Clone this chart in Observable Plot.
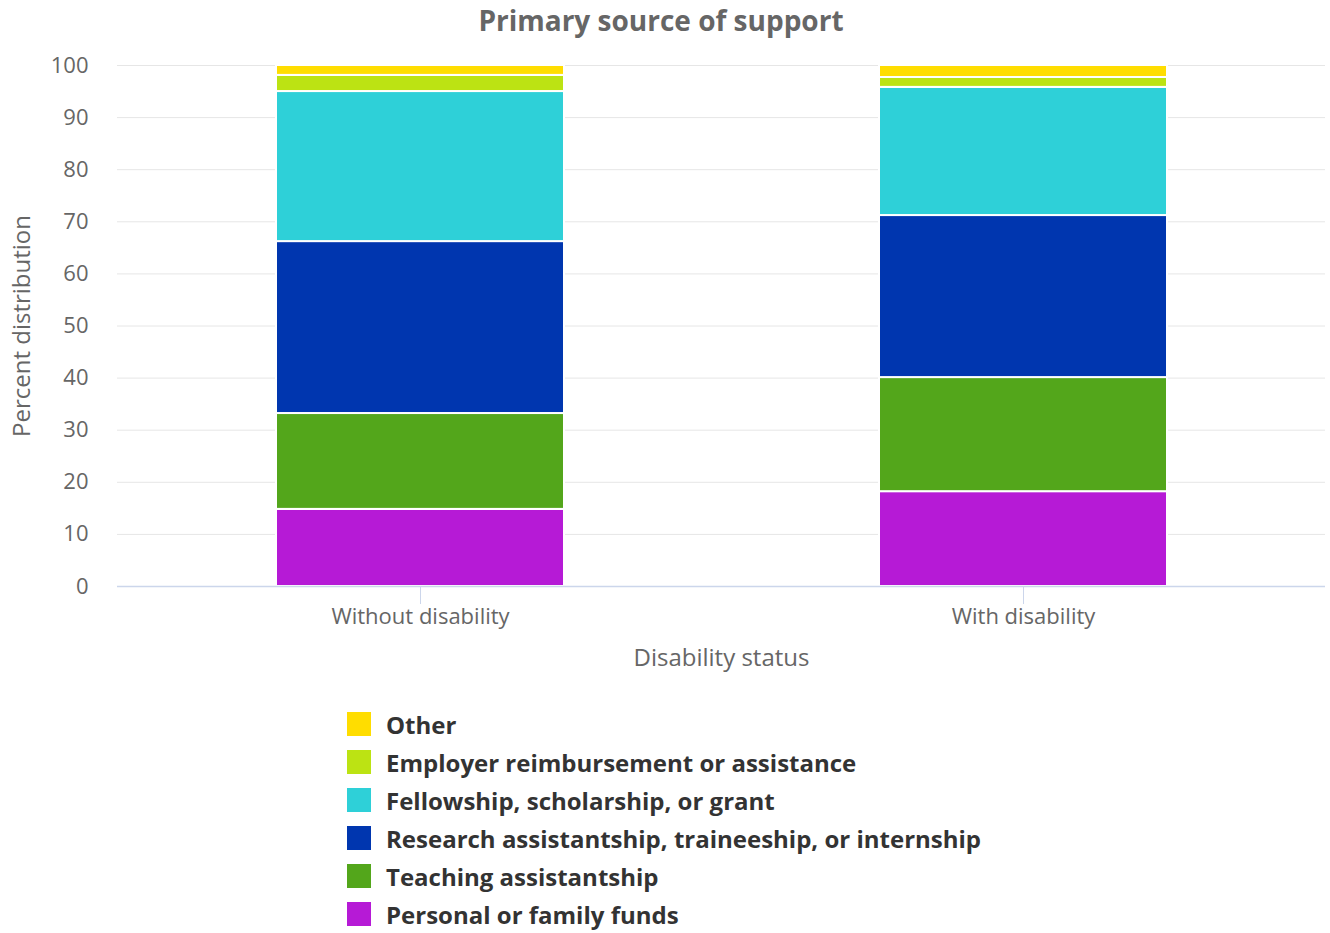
<!DOCTYPE html>
<html>
<head>
<meta charset="utf-8">
<script src="https://cdn.jsdelivr.net/npm/d3@7"></script>
<script src="https://cdn.jsdelivr.net/npm/@observablehq/plot@0.6"></script>
<style>
  body { margin: 0; background: #fff; font-family: "Open Sans", sans-serif; }
  #wrap { position: relative; width: 1330px; height: 933px; }
  #title { position: absolute; left: 0; top: 0; width: 1322px; height: 40px; line-height: 40px; text-align: center;
           font-size: 28px; font-weight: 700; color: #666; }
  #chart { position: absolute; left: 0; top: 42px; }
  #legend { position: absolute; left: 347px; top: 705px; }
  .row { display: flex; align-items: center; height: 38px; }
  .sw { width: 24px; height: 24px; margin-right: 15px; }
  .lab { font-size: 24px; font-weight: 700; color: #333; }
</style>
</head>
<body>
<div id="wrap">
  <div id="title">Primary source of support</div>
  <div id="chart"></div>
  <div id="legend"></div>
</div>
<script>
const categories = ["Without disability", "With disability"];
const series = [
  "Personal or family funds",
  "Teaching assistantship",
  "Research assistantship, traineeship, or internship",
  "Fellowship, scholarship, or grant",
  "Employer reimbursement or assistance",
  "Other"
];
const withoutValues = [14.8, 18.4, 33.0, 28.8, 3.1, 1.9];
const withValues = [18.2, 21.9, 31.1, 24.6, 1.9, 2.3];
const colors = ["#B61AD6", "#53A61B", "#0036AF", "#2ED0D8", "#BCE313", "#FFDD00"];
const yTicks = [0, 10, 20, 30, 40, 50, 60, 70, 80, 90, 100];

const data = [];
series.forEach((s, i) => {
  data.push({category: categories[0], series: s, value: withoutValues[i]});
  data.push({category: categories[1], series: s, value: withValues[i]});
});

const chart = Plot.plot({
  width: 1330,
  height: 640,
  marginTop: 23,
  marginBottom: 96,
  marginLeft: 117,
  marginRight: 5,
  style: {fontFamily: "Open Sans, sans-serif", background: "transparent"},
  x: {domain: categories, paddingInner: 0.523, paddingOuter: 0.2616, align: 0.5},
  y: {domain: [0, 100]},
  color: {domain: series, range: colors},
  marks: [
    Plot.gridY(yTicks, {stroke: "#e6e6e6", strokeOpacity: 1}),
    Plot.barY(data, Plot.stackY({x: "category", y: "value", fill: "series", order: series,
      stroke: "white", strokeWidth: 2})),
    Plot.ruleY([0], {stroke: "#ccd6eb", strokeWidth: 1.5}),
    Plot.axisY({ticks: yTicks, tickSize: 0, tickPadding: 29, fontSize: 22, fill: "#666", label: null}),
    Plot.axisX({tickSize: 18, tickPadding: 4, fontSize: 22, fill: "#666", stroke: "#ccd6eb", label: null}),
    Plot.text(["Disability status"], {frameAnchor: "bottom", dy: 72, fontSize: 24, fill: "#666", textAnchor: "middle", lineAnchor: "middle"}),
    Plot.text(["Percent distribution"], {frameAnchor: "left", dx: -95, rotate: -90, fontSize: 24, fill: "#666", textAnchor: "middle", lineAnchor: "middle"})
  ]
});
document.getElementById("chart").appendChild(chart);

const legend = document.getElementById("legend");
for (let i = series.length - 1; i >= 0; i--) {
  const row = document.createElement("div");
  row.className = "row";
  const sw = document.createElement("div");
  sw.className = "sw";
  sw.style.background = colors[i];
  const lab = document.createElement("div");
  lab.className = "lab";
  lab.textContent = series[i];
  row.appendChild(sw);
  row.appendChild(lab);
  legend.appendChild(row);
}
</script>
</body>
</html>
